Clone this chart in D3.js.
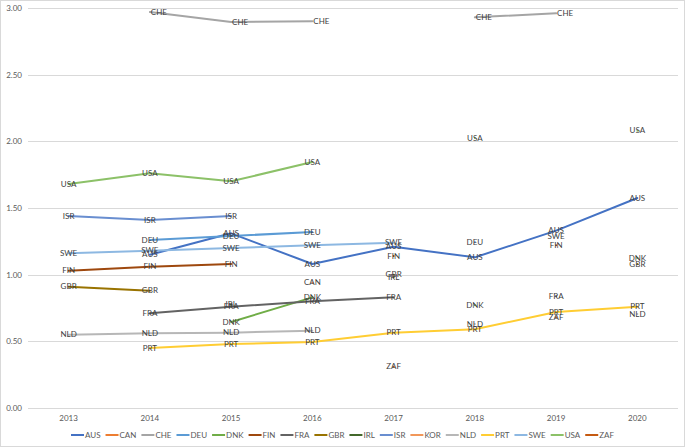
<!DOCTYPE html>
<html><head><meta charset="utf-8">
<script src="https://cdn.jsdelivr.net/npm/d3@7"></script>
<style>body{margin:0;background:#fff}svg{display:block}</style>
</head><body><svg id="c" width="685" height="447"></svg>
<script>
const years = ["2013","2014","2015","2016","2017","2018","2019","2020"];
const yTicks = [0, 0.5, 1.0, 1.5, 2.0, 2.5, 3.0];
const seriesNames = ["AUS","CAN","CHE","DEU","DNK","FIN","FRA","GBR","IRL","ISR","KOR","NLD","PRT","SWE","USA","ZAF"];
const AUS = [null, 1.15, 1.31, 1.08, 1.21, 1.13, 1.33, 1.575];
const CAN = [null, null, null, 0.94, null, null, null, null];
const CHE = [null, 2.97, 2.895, 2.90, null, 2.93, 2.96, null];
const DEU = [null, 1.26, 1.29, 1.32, null, 1.245, null, null];
const DNK = [null, null, 0.645, 0.83, null, 0.77, null, 1.125];
const FIN = [1.03, 1.06, 1.08, null, 1.14, null, 1.22, null];
const FRA = [null, 0.71, 0.76, 0.80, 0.83, null, 0.84, null];
const GBR = [0.91, 0.88, null, null, 1.00, null, null, 1.08];
const IRL = [null, null, 0.775, null, 0.98, null, null, null];
const ISR = [1.44, 1.41, 1.44, null, null, null, null, null];
const KOR = [null, null, null, null, null, null, null, null];
const NLD = [0.55, 0.56, 0.565, 0.58, null, 0.63, null, 0.705];
const PRT = [null, 0.45, 0.48, 0.495, 0.565, 0.59, 0.72, 0.76];
const SWE = [1.16, 1.18, 1.20, 1.22, 1.24, null, 1.29, null];
const USA = [1.68, 1.76, 1.70, 1.845, null, 2.025, null, 2.08];
const ZAF = [null, null, null, null, 0.31, null, 0.68, null];
const seriesValues = [AUS,CAN,CHE,DEU,DNK,FIN,FRA,GBR,IRL,ISR,KOR,NLD,PRT,SWE,USA,ZAF];
const colors = ["#4472C4","#ED7D31","#A5A5A5","#5B9BD5","#70AD47","#9E480E","#636363","#997300","#43682B","#698ED0","#F1975A","#B7B7B7","#FFCD33","#8DB8E2","#8CC168","#C55A11"];

const svg = d3.select("#c");
const W = 685, H = 447;
const m = {left: 28, right: 7, top: 8, bottom: 39};
svg.append("rect").attr("x",0.5).attr("y",0.5).attr("width",W-1).attr("height",H-1)
  .attr("fill","#fff").attr("stroke","#D9D9D9");

const x = d3.scaleBand().domain(years).range([m.left, W - m.right]);
const y = d3.scaleLinear().domain([0, 3]).range([H - m.bottom, m.top]);
const font = "Lato, 'Open Sans', sans-serif";

svg.append("g").selectAll("line").data(yTicks).join("line")
  .attr("x1", m.left).attr("x2", W - m.right)
  .attr("y1", d => Math.round(y(d)) + 0.5).attr("y2", d => Math.round(y(d)) + 0.5)
  .attr("stroke", "#D9D9D9").attr("stroke-width", 1);

const yAxis = d3.axisLeft(y).tickValues(yTicks).tickFormat(d3.format(".2f")).tickSize(0).tickPadding(6);
const gy = svg.append("g").attr("transform", `translate(${m.left},0)`).call(yAxis);
gy.select(".domain").remove();
gy.selectAll("text").attr("fill", "#595959").style("font-family", font).style("font-size", "8px");

const xAxis = d3.axisBottom(x).tickSize(0).tickPadding(7);
const gx = svg.append("g").attr("transform", `translate(0,${H - m.bottom})`).call(xAxis);
gx.select(".domain").remove();
gx.selectAll("text").attr("fill", "#595959").style("font-family", font).style("font-size", "8px");

const cx = i => x(years[i]) + x.bandwidth() / 2;
const line = d3.line().defined(d => d.v != null).x(d => cx(d.i)).y(d => y(d.v));

seriesNames.forEach((name, s) => {
  const pts = seriesValues[s].map((v, i) => ({v, i}));
  svg.append("path").datum(pts).attr("d", line)
    .attr("fill", "none").attr("stroke", colors[s]).attr("stroke-width", 2)
    .attr("stroke-linejoin", "round").attr("stroke-linecap", "round");
});
seriesNames.forEach((name, s) => {
  const dx = name === "CHE" ? 9 : 0;
  const pts = seriesValues[s].map((v, i) => ({v, i})).filter(d => d.v != null);
  svg.append("g").selectAll("text").data(pts).join("text")
    .attr("x", d => cx(d.i) + dx).attr("y", d => y(d.v))
    .attr("dy", "0.35em").attr("text-anchor", "middle")
    .attr("fill", "#404040").style("font-family", font).style("font-size", "8px")
    .text(name);
});

const lg = svg.append("g");
const items = [];
let cur = 0;
const tmp = svg.append("text").style("font-family", font).style("font-size", "8px");
seriesNames.forEach((name, s) => {
  tmp.text(name);
  const tw = tmp.node().getComputedTextLength();
  items.push({name, s, off: cur});
  cur += 13 + 1 + tw + 5;
});
tmp.remove();
const total = cur - 5;
const lx0 = (W - total) / 2;
const ly = 435;
items.forEach(it => {
  const g = lg.append("g").attr("transform", `translate(${lx0 + it.off},${ly})`);
  g.append("line").attr("x1", 0).attr("x2", 13).attr("y1", 0).attr("y2", 0)
    .attr("stroke", colors[it.s]).attr("stroke-width", 2);
  g.append("text").attr("x", 14).attr("y", 0).attr("dy", "0.35em")
    .attr("fill", "#595959").style("font-family", font).style("font-size", "8px").text(it.name);
});
</script></body></html>
